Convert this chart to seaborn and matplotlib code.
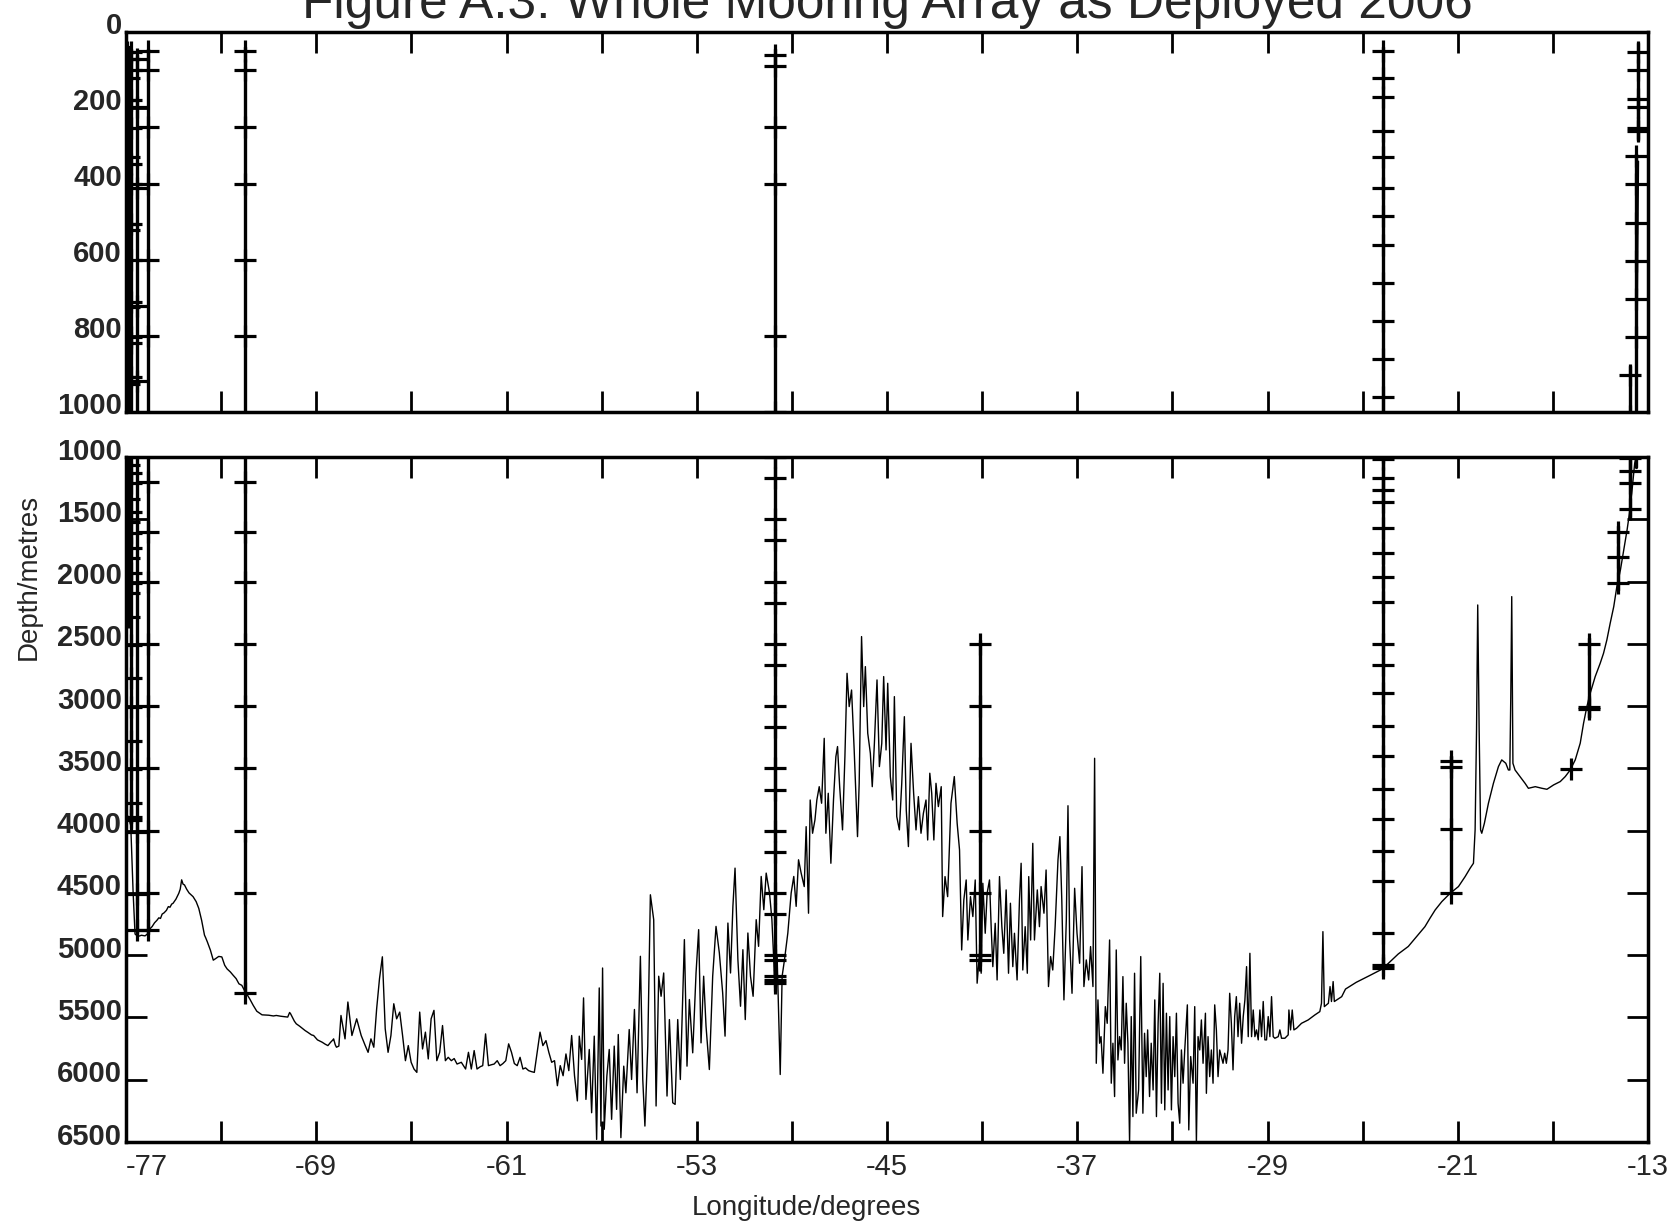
import numpy as np
import pandas as pd
import matplotlib
matplotlib.use("Agg")
import matplotlib.pyplot as plt
import matplotlib.transforms as mtransforms
import seaborn as sns

# ---------------- data ----------------
title_text = "Figure A.3: Whole Mooring Array as Deployed 2006"
x_label = "Longitude/degrees"
y_label = "Depth/metres"

x_ticks = list(range(-77, -12, 4))
x_tick_labels = ["-77", "", "-69", "", "-61", "", "-53", "", "-45", "", "-37", "", "-29", "", "-21", "", "-13"]
top_y_ticks = [0, 200, 400, 600, 800, 1000]
bot_y_ticks = [1000, 1500, 2000, 2500, 3000, 3500, 4000, 4500, 5000, 5500, 6000, 6500]

# bathymetry (longitude, depth)
bathy_west = [
    (-77.0, 3850), (-76.85, 3920), (-76.8, 3960), (-76.7, 4500), (-76.62, 4830), (-76.5, 4850), (-76.35, 4840),
    (-76.2, 4845), (-76.1, 4830), (-76.0, 4790), (-75.9, 4770), (-75.8, 4740), (-75.7, 4720), (-75.62, 4700),
    (-75.55, 4705), (-75.48, 4670), (-75.4, 4660), (-75.3, 4640), (-75.22, 4610), (-75.15, 4615), (-75.08, 4590),
    (-75.02, 4583), (-74.9, 4550), (-74.78, 4503), (-74.72, 4470), (-74.66, 4395), (-74.6, 4430), (-74.54, 4436),
    (-74.45, 4470), (-74.35, 4500), (-74.18, 4530), (-74.05, 4570), (-73.94, 4624), (-73.82, 4720), (-73.7, 4839),
    (-73.65, 4860), (-73.58, 4893), (-73.45, 4960), (-73.33, 5040), (-73.25, 5030), (-73.1, 5010), (-72.97, 5014),
    (-72.85, 5081), (-72.75, 5110), (-72.61, 5135), (-72.5, 5160), (-72.37, 5188), (-72.25, 5230), (-72.13, 5242),
    (-72.0, 5290), (-71.93, 5309), (-71.8, 5350), (-71.65, 5403), (-71.5, 5450), (-71.28, 5479), (-71.0, 5482),
    (-70.8, 5488), (-70.68, 5484), (-70.5, 5490), (-70.3, 5495), (-70.2, 5497), (-70.12, 5460), (-70.08, 5470),
    (-70.0, 5500), (-69.92, 5530), (-69.84, 5551), (-69.7, 5570), (-69.6, 5585), (-69.47, 5605), (-69.35, 5620),
    (-69.2, 5640), (-69.11, 5645), (-68.95, 5680), (-68.85, 5690), (-68.75, 5699), (-68.62, 5715), (-68.51, 5726),
    (-68.4, 5700), (-68.3, 5680), (-68.27, 5672), (-68.2, 5720), (-68.15, 5739), (-68.05, 5730),
]
bathy_basin_w = [
    (-67.96, 5484), (-67.79, 5672), (-67.67, 5376), (-67.5, 5645), (-67.3, 5511), (-67.11, 5645), (-66.94, 5726),
    (-66.82, 5780), (-66.7, 5672), (-66.58, 5739), (-66.46, 5430), (-66.34, 5188), (-66.22, 5013), (-66.1, 5591),
    (-65.98, 5780), (-65.86, 5645), (-65.74, 5390), (-65.62, 5511), (-65.49, 5457), (-65.37, 5645), (-65.25, 5847),
    (-65.13, 5726), (-65.01, 5860), (-64.89, 5914), (-64.77, 5941), (-64.65, 5457), (-64.53, 5753), (-64.41, 5618),
    (-64.29, 5833), (-64.17, 5511), (-64.05, 5443), (-63.93, 5847), (-63.81, 5780), (-63.69, 5565), (-63.57, 5847),
    (-63.45, 5820), (-63.32, 5847), (-63.2, 5830), (-63.08, 5874), (-62.9, 5860), (-62.72, 5914), (-62.6, 5780),
    (-62.48, 5914), (-62.36, 5766), (-62.24, 5914), (-62.1, 5895), (-62.0, 5887), (-61.88, 5632), (-61.76, 5887),
    (-61.64, 5880), (-61.52, 5874), (-61.39, 5847), (-61.27, 5887), (-61.15, 5870), (-61.03, 5847), (-60.91, 5712),
    (-60.79, 5780), (-60.67, 5870), (-60.55, 5887), (-60.43, 5820), (-60.31, 5914), (-60.2, 5905), (-60.07, 5927),
    (-59.95, 5935), (-59.83, 5941), (-59.71, 5780), (-59.59, 5618), (-59.47, 5726), (-59.34, 5686), (-59.22, 5780),
    (-59.1, 5860), (-58.98, 5847), (-58.86, 6048), (-58.74, 5887), (-58.62, 5968), (-58.5, 5793), (-58.38, 5927),
    (-58.26, 5645), (-58.14, 5968), (-58.02, 6170),
]
bathy_flank_w = [
    (-57.94, 5650), (-57.84, 5837), (-57.76, 5343), (-57.66, 6158), (-57.52, 5757), (-57.42, 6265), (-57.31, 5650),
    (-57.21, 6479), (-57.1, 5263), (-57.03, 6372), (-56.96, 5103), (-56.89, 6398), (-56.78, 5971), (-56.68, 5757),
    (-56.58, 6318), (-56.47, 5730), (-56.37, 6238), (-56.3, 5637), (-56.19, 6465), (-56.07, 5891), (-55.98, 6105),
    (-55.84, 5597), (-55.74, 5998), (-55.62, 5436), (-55.51, 6105), (-55.37, 5009), (-55.27, 5998), (-55.18, 6372),
    (-55.06, 5730), (-54.95, 4515), (-54.81, 4715), (-54.71, 6211), (-54.6, 5169), (-54.5, 5330), (-54.39, 5143),
    (-54.25, 6131), (-54.15, 5517), (-54.01, 6185), (-53.91, 6198), (-53.8, 5517), (-53.69, 5998), (-53.52, 4875),
    (-53.41, 5891), (-53.31, 5356), (-53.17, 5784), (-53.03, 5143), (-52.92, 4795), (-52.82, 5704), (-52.71, 5169),
    (-52.61, 5570), (-52.47, 5918), (-52.33, 5169), (-52.19, 4769), (-52.05, 4982), (-51.91, 5303), (-51.81, 5650),
    (-51.69, 4742), (-51.58, 5143), (-51.48, 4608), (-51.39, 4301), (-51.27, 5036), (-51.16, 5410), (-51.06, 4956),
    (-50.96, 5517), (-50.85, 4822), (-50.74, 5169), (-50.63, 5330), (-50.5, 4715), (-50.4, 4929), (-50.29, 4368),
    (-50.18, 4635), (-50.08, 4341), (-49.94, 4501), (-49.84, 4715), (-49.73, 5169), (-49.62, 5009), (-49.49, 5958),
    (-49.41, 5169), (-49.31, 5036), (-49.17, 4822), (-49.03, 4501), (-48.92, 4368), (-48.82, 4608), (-48.72, 4234),
    (-48.61, 4341),
]
bathy_ridge = [
    (-48.48, 4449), (-48.4, 3968), (-48.3, 4663), (-48.23, 3754), (-48.13, 4021), (-48.03, 3914), (-47.95, 3754),
    (-47.85, 3647), (-47.75, 3780), (-47.64, 3259), (-47.57, 4021), (-47.47, 3700), (-47.36, 4262), (-47.25, 3754),
    (-47.15, 3406), (-47.08, 3325), (-46.99, 3647), (-46.87, 3994), (-46.77, 3406), (-46.68, 2737), (-46.59, 3004),
    (-46.49, 2871), (-46.38, 3352), (-46.24, 4048), (-46.17, 3620), (-46.07, 2442), (-45.98, 3004), (-45.91, 2683),
    (-45.81, 3218), (-45.7, 3379), (-45.62, 3647), (-45.53, 3299), (-45.42, 2790), (-45.32, 3486), (-45.22, 3299),
    (-45.14, 2763), (-45.04, 3352), (-44.97, 2817), (-44.86, 3566), (-44.76, 3754), (-44.69, 2924), (-44.59, 3887),
    (-44.48, 3994), (-44.38, 3620), (-44.27, 3085), (-44.19, 3834), (-44.1, 4128), (-43.99, 3299), (-43.88, 3700),
    (-43.78, 3994), (-43.68, 3727), (-43.57, 4021), (-43.47, 3861), (-43.36, 3754), (-43.29, 4075), (-43.2, 3539),
    (-43.12, 3700), (-43.03, 4075), (-42.94, 3620), (-42.84, 3807), (-42.72, 3647),
]
bathy_flank_e = [
    (-42.66, 4690), (-42.56, 4369), (-42.45, 4530), (-42.31, 3780), (-42.17, 3566), (-42.05, 3941), (-41.95, 4155),
    (-41.86, 4958), (-41.77, 4557), (-41.67, 4396), (-41.6, 4878), (-41.49, 4530), (-41.39, 4690), (-41.29, 4396),
    (-41.21, 5225), (-41.11, 4985), (-41.04, 5145), (-40.97, 4423), (-40.87, 4824), (-40.79, 4503), (-40.69, 4396),
    (-40.62, 4771), (-40.55, 5092), (-40.45, 4744), (-40.37, 5199), (-40.27, 4369), (-40.17, 4771), (-40.09, 4985),
    (-39.99, 4476), (-39.89, 5145), (-39.81, 4583), (-39.71, 5092), (-39.64, 4824), (-39.53, 5199), (-39.43, 4557),
    (-39.36, 4262), (-39.29, 5119), (-39.19, 4771), (-39.1, 5145), (-39.04, 4369), (-38.96, 4878), (-38.87, 4102),
    (-38.8, 4878), (-38.68, 4476), (-38.59, 4771), (-38.52, 4449), (-38.4, 4663), (-38.31, 4316), (-38.21, 5252),
    (-38.12, 5011), (-38.03, 5119), (-37.93, 4771), (-37.81, 4235), (-37.73, 4048), (-37.65, 4557), (-37.56, 5359),
    (-37.46, 4717), (-37.39, 3800), (-37.32, 4878), (-37.22, 5306), (-37.11, 4463), (-37.01, 4824), (-36.9, 5065),
    (-36.8, 4289), (-36.72, 5252), (-36.62, 5038), (-36.52, 5199), (-36.44, 4931), (-36.34, 5252), (-36.27, 3419),
]
bathy_basin_e = [
    (-36.2, 5868), (-36.13, 5359), (-36.06, 5707), (-36.0, 5654), (-35.92, 5948), (-35.82, 5413), (-35.74, 5547),
    (-35.64, 4878), (-35.57, 6028), (-35.5, 5707), (-35.43, 6135), (-35.36, 4958), (-35.29, 5841), (-35.22, 5654),
    (-35.15, 5761), (-35.08, 5172), (-35.01, 5868), (-34.94, 5386), (-34.87, 5707), (-34.8, 6500), (-34.73, 5493),
    (-34.66, 6296), (-34.59, 5145), (-34.52, 6269), (-34.42, 6082), (-34.33, 5011), (-34.24, 6269), (-34.17, 5627),
    (-34.1, 5975), (-34.04, 5600), (-33.96, 6135), (-33.89, 5707), (-33.81, 6082), (-33.74, 5359), (-33.67, 6296),
    (-33.6, 5547), (-33.53, 5145), (-33.46, 6189), (-33.39, 5226), (-33.32, 6242), (-33.25, 5466), (-33.18, 6082),
    (-33.11, 5493), (-33.04, 6242), (-32.97, 5654), (-32.9, 5975), (-32.83, 5466), (-32.76, 6189), (-32.69, 6349),
    (-32.62, 5761), (-32.55, 6028), (-32.48, 5761), (-32.37, 5399), (-32.31, 6403), (-32.23, 5814), (-32.13, 6028),
    (-32.06, 5413), (-31.99, 6500), (-31.92, 5654), (-31.85, 5761), (-31.78, 5520), (-31.71, 5868), (-31.61, 5466),
    (-31.57, 6109), (-31.5, 5654), (-31.43, 5975), (-31.36, 5761), (-31.29, 6028), (-31.22, 5399), (-31.15, 5600),
    (-31.08, 5975), (-31.01, 5761), (-30.94, 5814), (-30.87, 5868), (-30.8, 5787), (-30.73, 5868), (-30.66, 5761),
    (-30.59, 5306), (-30.52, 5547), (-30.45, 5921), (-30.38, 5493), (-30.31, 5333), (-30.24, 5654), (-30.17, 5386),
    (-30.09, 5707), (-30.02, 5493), (-29.95, 5359), (-29.88, 5092), (-29.81, 5654), (-29.74, 4985), (-29.67, 5654),
    (-29.6, 5440), (-29.53, 5654), (-29.46, 5600), (-29.39, 5680), (-29.32, 5440), (-29.25, 5654), (-29.18, 5372),
    (-29.11, 5680), (-29.04, 5680), (-28.97, 5493), (-28.9, 5654), (-28.83, 5333), (-28.76, 5654), (-28.69, 5667),
    (-28.55, 5654), (-28.48, 5600), (-28.41, 5667), (-28.27, 5667), (-28.13, 5640), (-28.1, 5440), (-28.03, 5600),
    (-27.96, 5440), (-27.89, 5600), (-27.78, 5587), (-27.57, 5547), (-27.29, 5520), (-27.01, 5480), (-26.8, 5453),
    (-26.73, 5386), (-26.67, 4811), (-26.61, 5413), (-26.44, 5386), (-26.37, 5252), (-26.31, 5372), (-26.24, 5212),
    (-26.19, 5372), (-25.88, 5333),
]
bathy_east = [
    (-25.72, 5272), (-25.27, 5218), (-24.72, 5165), (-24.17, 5111), (-23.73, 5031), (-23.5, 4990), (-23.08, 4930),
    (-22.73, 4851), (-22.38, 4771), (-22.17, 4704), (-21.95, 4637), (-21.67, 4570), (-21.32, 4503), (-20.97, 4449),
    (-20.69, 4369), (-20.48, 4302), (-20.34, 4262), (-20.27, 3994), (-20.21, 3191), (-20.16, 2188), (-20.1, 3191),
    (-20.04, 3994), (-19.99, 4021), (-19.88, 3941), (-19.71, 3780), (-19.5, 3620), (-19.29, 3486), (-19.15, 3432),
    (-18.98, 3459), (-18.87, 3513), (-18.81, 3513), (-18.77, 2924), (-18.73, 2121), (-18.68, 3459), (-18.59, 3513),
    (-18.38, 3566), (-18.17, 3620), (-18.03, 3660), (-17.74, 3647), (-17.46, 3660), (-17.25, 3668), (-16.97, 3633),
    (-16.69, 3606), (-16.48, 3566), (-16.27, 3513), (-16.06, 3432), (-15.85, 3298), (-15.71, 3138), (-15.57, 3004),
    (-15.43, 2897), (-15.22, 2763), (-15.01, 2656), (-14.87, 2576), (-14.73, 2469), (-14.59, 2335), (-14.44, 2201),
    (-14.31, 2041), (-14.16, 1907), (-14.02, 1747), (-13.88, 1586), (-13.78, 1452), (-13.67, 1265), (-13.56, 1051),
    (-13.5, 997), (-13.46, 800), (-13.42, 500), (-13.4, 340),
]

# moorings: longitude, top and bottom of the wire, instrument depths
mooring_lon = [-76.95, -76.88, -76.80, -76.52, -76.09, -71.98, -49.73, -41.11,
               -24.15, -21.28, -16.24, -15.47, -14.26, -13.74, -13.52, -13.40]
mooring_top = [40, 40, 45, 60, 45, 40, 45, 2470, 40, 3400, 3507, 2450, 1550, 880, 320, 30]
mooring_bottom = [1300, 2350, 3940, 4830, 4830, 5300, 5225, 5050, 5110, 4510, 3507, 3085, 2070, 1480, 1080, 285]
instr_m1 = [52, 179, 504, 907]
instr_m2 = [72, 122, 328, 521, 723, 925, 1064, 1340, 1519, 1814, 2094, 2282]
instr_m3 = [52, 100, 179, 253, 347, 400, 504, 600, 710, 802, 818, 907, 1131, 1206, 1439, 1608, 1728, 1934,
            2009, 2509, 2777, 3005, 3278, 3507, 3781, 3888, 3914]
instr_m4 = [70, 197, 411, 720, 918, 4008, 4509, 4800]
instr_m5 = [50, 100, 250, 400, 600, 800, 1200, 1600, 2000, 2500, 3000, 3500, 4000, 4500, 4800]
instr_m6 = [50, 100, 250, 400, 600, 800, 1200, 1600, 2000, 2500, 3000, 3500, 4000, 4500, 5300]
instr_m7 = [60, 90, 250, 400, 800, 1000, 1170, 1500, 1670, 2000, 2170, 2500, 2670, 3000, 3170, 3500, 3670,
            4000, 4170, 4500, 4670, 5000, 5040, 5170, 5200, 5220]
instr_m8 = [2500, 3000, 3500, 4000, 4500, 5000, 5040]
instr_m9 = [50, 120, 170, 260, 330, 410, 485, 560, 660, 760, 860, 960, 1018, 1166, 1265, 1359, 1568, 1768,
            1961, 2167, 2501, 2670, 2897, 3160, 3400, 3666, 3907, 4163, 4402, 4819, 5080, 5100]
instr_m10 = [3440, 3490, 3990, 4500]
instr_m11 = [3507]
instr_m12 = [2500, 3010, 3025]
instr_m13 = [1600, 1800, 2010]
instr_m14 = [903, 1011, 1110, 1211, 1418]
instr_m15 = [326, 401, 502, 602, 703, 803]
instr_m16 = [52, 100, 177, 198, 253, 260]
mooring_instruments = [instr_m1, instr_m2, instr_m3, instr_m4, instr_m5, instr_m6, instr_m7, instr_m8,
                       instr_m9, instr_m10, instr_m11, instr_m12, instr_m13, instr_m14, instr_m15, instr_m16]

# ---------------- tables ----------------
bathy = pd.DataFrame(bathy_west + bathy_basin_w + bathy_flank_w + bathy_ridge + bathy_flank_e
                     + bathy_basin_e + bathy_east, columns=["lon", "depth"])
wire_rows = []
inst_rows = []
for i, lon in enumerate(mooring_lon):
    wire_rows.append((i, lon, mooring_top[i]))
    wire_rows.append((i, lon, mooring_bottom[i]))
    for d in mooring_instruments[i]:
        inst_rows.append((i, lon, d))
wires = pd.DataFrame(wire_rows, columns=["mooring", "lon", "depth"])
instruments = pd.DataFrame(inst_rows, columns=["mooring", "lon", "depth"])

# ---------------- plotting ----------------
sns.set_style("ticks")
plt.rcParams["font.family"] = ["Liberation Sans", "DejaVu Sans"]
plt.rcParams["axes.unicode_minus"] = False

fig = plt.figure(figsize=(16.74, 12.26), dpi=100)
ax_top = fig.add_axes([126 / 1674, 1 - 412 / 1226, 1522 / 1674, 380 / 1226])
ax_bot = fig.add_axes([126 / 1674, 1 - 1142 / 1226, 1522 / 1674, 685 / 1226])

for ax in (ax_top, ax_bot):
    sns.lineplot(data=bathy, x="lon", y="depth", estimator=None, sort=False, color="black",
                 linewidth=1.0, ax=ax, legend=False)
    sns.lineplot(data=wires, x="lon", y="depth", units="mooring", estimator=None, sort=False,
                 color="black", linewidth=2.4, ax=ax, legend=False)
    sns.scatterplot(data=instruments, x="lon", y="depth", marker="+", s=230, color="black",
                    linewidth=2.3, ax=ax, legend=False, zorder=4)
    ax.set_xlim(-77, -13)
    ax.set_xticks(x_ticks)
    ax.set_xlabel("")
    ax.set_ylabel("")
    for sp in ax.spines.values():
        sp.set_visible(True)
        sp.set_linewidth(2.5)
        sp.set_color("black")
    ax.tick_params(axis="both", direction="in", length=15, width=2, color="black")
    ax.tick_params(axis="x", top=True, bottom=True)

ax_top.set_ylim(1000, 0)
ax_top.set_yticks(top_y_ticks)
ax_top.set_yticklabels([str(v) for v in top_y_ticks], fontsize=21, fontweight="bold")
ax_top.tick_params(axis="x", labelbottom=False)
ax_top.tick_params(axis="y", left=True, right=False, pad=3)

ax_bot.set_ylim(6500, 1000)
ax_bot.set_yticks(bot_y_ticks)
ax_bot.set_yticklabels([str(v) for v in bot_y_ticks], fontsize=21, fontweight="bold")
ax_bot.tick_params(axis="y", left=True, right=True, pad=3)
ax_bot.set_xticklabels(x_tick_labels, fontsize=21)
ax_bot.tick_params(axis="x", pad=8)
ax_bot.get_xticklabels()[0].set_horizontalalignment("left")

offset = mtransforms.ScaledTranslation(0, 8.5 / 100, fig.dpi_scale_trans)
for ax in (ax_top, ax_bot):
    for t in ax.yaxis.get_major_ticks():
        t.label1.set_transform(t.label1.get_transform() + offset)

fig.text(887 / 1674, 1 - 18 / 1226, title_text, ha="center", va="baseline", fontsize=37)
fig.text(806 / 1674, 1 - 1208 / 1226, x_label, ha="center", va="center", fontsize=20)
fig.text(29 / 1674, 1 - 577 / 1226, y_label, ha="center", va="center", rotation=90, fontsize=20)

fig.savefig("out.png", dpi=100, facecolor="white")
